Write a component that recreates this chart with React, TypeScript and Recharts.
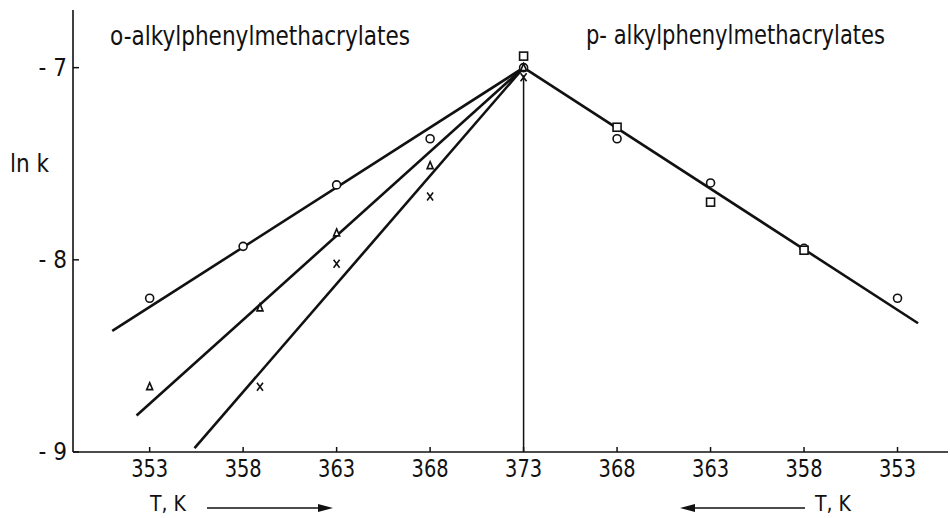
import React from "react";
import {
  ComposedChart,
  Line,
  Scatter,
  XAxis,
  YAxis,
} from "recharts";

// temperature (K) and ln k
// left half: ortho series, right half: para series (mirrored about 373 K)
const oCircleT = [353, 358, 363, 368, 373];
const oCircleLnk = [-8.2, -7.93, -7.61, -7.37, -7.0];
const oTriangleT = [353, 358.9, 363, 368, 373];
const oTriangleLnk = [-8.66, -8.25, -7.86, -7.51, -7.0];
const oCrossT = [358.9, 363, 368, 373];
const oCrossLnk = [-8.66, -8.02, -7.67, -7.05];

const pCircleT = [368, 363, 358, 353];
const pCircleLnk = [-7.37, -7.6, -7.94, -8.2];
const pSquareT = [373, 368, 363, 358];
const pSquareLnk = [-6.94, -7.31, -7.7, -7.95];

// fitted lines (end points)
const oCircleFitT = [351.0, 373];
const oCircleFitLnk = [-8.37, -7.0];
const oTriangleFitT = [352.3, 373];
const oTriangleFitLnk = [-8.81, -7.0];
const oCrossFitT = [355.4, 373];
const oCrossFitLnk = [-8.98, -7.0];
const pFitT = [373, 351.9];
const pFitLnk = [-7.0, -8.33];
const dividerT = [373, 373];
const dividerLnk = [-9, -7.04];

const xTicks = [353, 358, 363, 368, 373, 378, 383, 388, 393];
const yTicks = [-9, -8, -7];

const MIRROR = 746; // 2 * 373

function toPoints(ts: number[], ys: number[], para = false) {
  return ts.map((t, i) => ({ pos: para ? MIRROR - t : t, lnk: ys[i] }));
}

const INK = "#111";
const FONT = "'Liberation Sans Narrow', 'DejaVu Sans Condensed', 'DejaVu Sans', sans-serif";

const OpenCircle = (p: any) => (
  <circle cx={p.cx} cy={p.cy} r={4} fill="white" stroke={INK} strokeWidth={1.6} />
);
const OpenSquare = (p: any) => (
  <rect x={p.cx - 4} y={p.cy - 4} width={8} height={8} fill="white" stroke={INK} strokeWidth={1.6} />
);
const OpenTriangle = (p: any) => (
  <path
    d={`M${p.cx},${p.cy - 4} L${p.cx + 3},${p.cy + 3} L${p.cx - 3},${p.cy + 3} Z`}
    fill="white"
    stroke={INK}
    strokeWidth={1.6}
  />
);
const Cross = (p: any) => (
  <path
    d={`M${p.cx - 3},${p.cy - 4} L${p.cx + 3},${p.cy + 4} M${p.cx + 3},${p.cy - 4} L${p.cx - 3},${p.cy + 4}`}
    stroke={INK}
    strokeWidth={1.6}
  />
);

const XTick = (props: any) => {
  const { x, y, payload } = props;
  const v = payload.value <= 373 ? payload.value : MIRROR - payload.value;
  return (
    <g>
      <line x1={x} y1={y} x2={x} y2={y - 5} stroke={INK} strokeWidth={1.5} />
      <text
        x={x}
        y={y + 25}
        textAnchor="middle"
        fontSize={24}
        fill={INK}
        fontFamily={FONT}
        textLength={37}
        lengthAdjust="spacingAndGlyphs"
      >
        {v}
      </text>
    </g>
  );
};

const YTick = (props: any) => {
  const { x, y, payload } = props;
  return (
    <g>
      <line x1={x} y1={y} x2={x + 6} y2={y} stroke={INK} strokeWidth={1.5} />
      <text x={x - 6} y={y + 8} textAnchor="end" fontSize={24} fill={INK} fontFamily={FONT}>
        {`- ${Math.abs(payload.value)}`}
      </text>
    </g>
  );
};

export default function App() {
  const lineProps = {
    dataKey: "lnk",
    type: "linear" as const,
    stroke: INK,
    strokeWidth: 2.6,
    dot: false,
    isAnimationActive: false,
  };
  return (
    <div style={{ position: "absolute", left: 0, top: 0, width: 950, height: 518, background: "white" }}>
      <ComposedChart width={950} height={518} margin={{ top: 10, right: 2, bottom: 0, left: 0 }}>
        <XAxis
          dataKey="pos"
          type="number"
          domain={[348.9, 395.7]}
          ticks={xTicks}
          allowDataOverflow
          height={66}
          tickSize={0}
          tickMargin={0}
          tickLine={false}
          axisLine={{ stroke: INK, strokeWidth: 1.6 }}
          tick={<XTick />}
          interval={0}
        />
        <YAxis
          dataKey="lnk"
          type="number"
          domain={[-9, -6.7]}
          ticks={yTicks}
          allowDataOverflow
          width={73}
          tickSize={0}
          tickMargin={0}
          tickLine={false}
          axisLine={{ stroke: INK, strokeWidth: 1.6 }}
          tick={<YTick />}
          interval={0}
        />
        <Line data={toPoints(dividerT, dividerLnk)} {...lineProps} strokeWidth={1.5} />
        <Line data={toPoints(oCircleFitT, oCircleFitLnk)} {...lineProps} />
        <Line data={toPoints(oTriangleFitT, oTriangleFitLnk)} {...lineProps} />
        <Line data={toPoints(oCrossFitT, oCrossFitLnk)} {...lineProps} />
        <Line data={toPoints(pFitT, pFitLnk, true)} {...lineProps} />
        <Scatter data={toPoints(oCircleT, oCircleLnk)} dataKey="lnk" shape={OpenCircle} isAnimationActive={false} />
        <Scatter data={toPoints(oTriangleT, oTriangleLnk)} dataKey="lnk" shape={OpenTriangle} isAnimationActive={false} />
        <Scatter data={toPoints(oCrossT, oCrossLnk)} dataKey="lnk" shape={Cross} isAnimationActive={false} />
        <Scatter data={toPoints(pCircleT, pCircleLnk, true)} dataKey="lnk" shape={OpenCircle} isAnimationActive={false} />
        <Scatter data={toPoints(pSquareT, pSquareLnk, true)} dataKey="lnk" shape={OpenSquare} isAnimationActive={false} />
      </ComposedChart>
      <svg
        width={950}
        height={518}
        style={{ position: "absolute", left: 0, top: 0, pointerEvents: "none" }}
        fontFamily={FONT}
        fill={INK}
      >
        <text x={110} y={45} fontSize={27} textLength={300} lengthAdjust="spacingAndGlyphs">
          o-alkylphenylmethacrylates
        </text>
        <text x={586} y={44} fontSize={27} textLength={299} lengthAdjust="spacingAndGlyphs">
          p- alkylphenylmethacrylates
        </text>
        <text x={10} y={172} fontSize={24}>ln k</text>
        <text x={150} y={511} fontSize={21}>T, K</text>
        <line x1={207} y1={508} x2={322} y2={508} stroke={INK} strokeWidth={1.5} />
        <path d="M333,508 L318,504 L318,512 Z" fill={INK} />
        <line x1={691} y1={508} x2={805} y2={508} stroke={INK} strokeWidth={1.5} />
        <path d="M680,508 L695,504 L695,512 Z" fill={INK} />
        <text x={815} y={511} fontSize={21}>T, K</text>
      </svg>
    </div>
  );
}
